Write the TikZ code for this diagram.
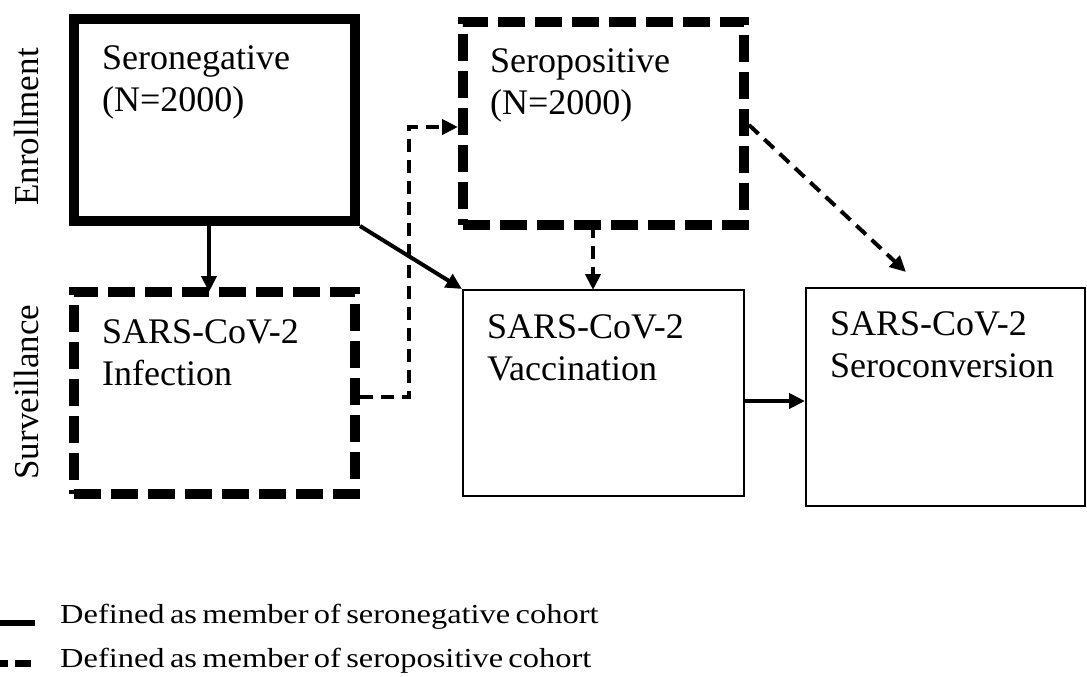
\documentclass[tikz,border=0pt]{standalone}
\usepackage{fontspec}
\setmainfont{Liberation Serif}
\usetikzlibrary{arrows.meta,calc}
\newcommand{\legline}[1]{\scalebox{1.18}[1]{\spaceskip=4.5pt plus 1pt minus 1pt\relax #1}}
\begin{document}
\begin{tikzpicture}[x=1pt,y=-1pt,
  boxbase/.style={draw=black,fill=none,rectangle,inner sep=0pt},
  thickbox/.style={boxbase,line width=10pt},
  dashbox/.style={boxbase,line width=10pt,dash pattern=on 27pt off 10pt},
  thinbox/.style={boxbase,line width=2pt},
  txt/.style={anchor=base west,align=left,inner sep=0pt,font=\fontsize{36}{42}\selectfont},
  sidelbl/.style={rotate=90,inner sep=0pt,font=\fontsize{35}{42}\selectfont},
  legtxt/.style={anchor=base west,inner sep=0pt,font=\fontsize{27.5}{30}\selectfont},
  solidarrow/.style={line width=4pt,-{Triangle[length=16pt,width=15pt]}},
  dasharrow/.style={line width=4pt,dash pattern=on 13pt off 8pt,-{Triangle[length=16pt,width=15pt]}}
]
\useasboundingbox (0,0) rectangle (1087,677);

% boxes
\node[thickbox,minimum width=281pt,minimum height=202pt] (neg) at (214.5,120) {};
\node[dashbox,minimum width=281pt,minimum height=203pt] (pos) at (603.5,123.5) {};
\node[dashbox,minimum width=281pt,minimum height=202pt] (inf) at (214.5,393) {};
\node[thinbox,minimum width=281pt,minimum height=206pt] (vac) at (603.5,393) {};
\node[thinbox,minimum width=279pt,minimum height=218pt] (ser) at (945.5,397) {};

% texts (anchor = baseline of last line)
\node[txt] (tneg) at (102,111) {Seronegative\\(N=2000)};
\node[txt] (tpos) at (490,114) {Seropositive\\(N=2000)};
\node[txt] (tinf) at (102,385) {SARS-CoV-2\\Infection};
\node[txt] (tvac) at (487,380) {SARS-CoV-2\\Vaccination};
\node[txt] (tser) at (830,377) {SARS-CoV-2\\Seroconversion};

\node[sidelbl] (enr) at (27,127) {Enrollment};
\node[sidelbl] (surv) at (27,392) {Surveillance};

% helper coordinates
\coordinate (negs) at (209,221);
\coordinate (infn) at (209,292);
\coordinate (poss) at (593,225);
\coordinate (vacn) at (593,290);
\coordinate (pose) at (749,125);
\coordinate (dend) at (906,272);
\coordinate (infe) at (360,397);
\coordinate (elbl) at (409,397);
\coordinate (elbu) at (409,127);
\coordinate (posw) at (458,127);
\coordinate (vace) at (745,401);
\coordinate (serw) at (805,401);

% connectors
\draw[solidarrow] (negs) -- (infn);
\draw[solidarrow] (neg.south east) -- (vac.north west);
\draw[dasharrow] (poss) -- (vacn);
\draw[dasharrow] (pose) -- (dend);
\draw[dasharrow] (infe) -- (elbl) -- (elbu) -- (posw);
\draw[solidarrow] (vace) -- (serw);

% legend
\coordinate (ls1) at (0,623);
\coordinate (le1) at (35,623);
\coordinate (ls2) at (0,663);
\coordinate (le2) at (31,663);
\draw[line width=6pt] (ls1) -- (le1);
\draw[line width=7pt,dash pattern=on 8pt off 7pt on 16pt off 10pt] (ls2) -- (le2);
\node[legtxt] (leg1) at (60,623) {\legline{Defined as member of seronegative cohort}};
\node[legtxt] (leg2) at (60,667) {\legline{Defined as member of seropositive cohort}};
\end{tikzpicture}
\end{document}
